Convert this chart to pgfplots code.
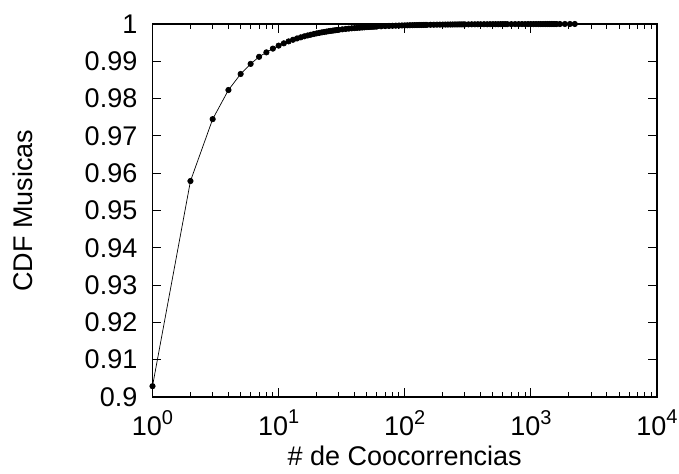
\documentclass[border=0pt]{standalone}
\usepackage{fontspec}
\setmainfont{Liberation Sans}
\usepackage{pgfplots}
\pgfplotsset{compat=1.18}
\newcommand{\sups}[1]{\raisebox{0.42em}{\fontsize{20bp}{21bp}\selectfont #1}}
\begin{document}
\fontsize{27bp}{32bp}\selectfont
\begin{tikzpicture}
\begin{axis}[
  at={(0,0)}, anchor=south west,
  scale only axis, width=504.5bp, height=373bp,
  xmode=log, xmin=1, xmax=10000, ymin=0.9, ymax=1,
  xtick={1,10,100,1000,10000},
  xticklabels={10\sups{0},10\sups{1},10\sups{2},10\sups{3},10\sups{4}},
  ytick={0.9,0.91,0.92,0.93,0.94,0.95,0.96,0.97,0.98,0.99,1},
  yticklabels={0.9,0.91,0.92,0.93,0.94,0.95,0.96,0.97,0.98,0.99,1},
  tick align=inside,
  major tick length=9bp, minor tick length=5bp,
  every tick/.style={black, line width=1bp},
  axis line style={line width=1.5bp},
  tick label style={font=\fontsize{27bp}{32bp}\selectfont},
  yticklabel style={xshift=-6bp},
  xticklabel style={yshift=-4bp},
  label style={font=\fontsize{27bp}{32bp}\selectfont},
  xlabel={\# de Coocorrencias},
  ylabel={CDF Musicas},
  xlabel style={at={(axis description cs:0.5,0)}, anchor=base, yshift=-68bp},
  ylabel style={at={(axis description cs:-0.2369,0.5)}, anchor=base},
  clip=false,
]
\addplot[black, line width=0.7bp, mark=*, mark size=2.7bp, mark options={solid, fill=black}] coordinates {
(1,0.9029) (2,0.9579) (3,0.9745) (4,0.9823) (5,0.9866) (6,0.9893) (7,0.9912) (8,0.9924) (9,0.9934) (10,0.9942)
(11,0.99482) (12,0.99534) (13,0.99577) (14,0.99613) (15,0.99643) (16,0.99670) (17,0.99693) (18,0.99713) (19,0.99731) (20,0.99748)
(21,0.99762) (22,0.99775) (23,0.99786) (24,0.99797) (25,0.99807) (26,0.99816) (27,0.99824) (28,0.99831) (29,0.99838) (30,0.99845)
(32,0.99857) (34,0.99867) (36,0.99876) (38,0.99884) (40,0.99890) (42,0.99896) (44,0.99901) (46,0.99906) (48,0.99911) (50,0.99916)
(52,0.99920) (54,0.99923) (56,0.99926) (58,0.99929) (60,0.99932)
(65,0.99938) (70,0.99944) (75,0.99948) (80,0.99952) (85,0.99955) (90,0.99958) (95,0.99961) (100,0.99963)
(105,0.99965) (110,0.99967) (115,0.99968) (120,0.99970) (125,0.99971) (130,0.99973) (135,0.99974) (140,0.99975) (145,0.99976) (150,0.99977)
(160,0.99979) (170,0.99980) (180,0.99982) (190,0.99983) (200,0.99984) (210,0.99985) (220,0.99986) (230,0.99986) (240,0.99987) (250,0.99988)
(260,0.99988) (270,0.99989) (280,0.99989) (290,0.99990) (300,0.99990) (320,0.99991) (340,0.99992) (360,0.99992) (380,0.99993) (400,0.99993)
(425,0.99994) (450,0.99994) (475,0.99995) (500,0.99995) (525,0.99995) (550,0.99995) (575,0.99996) (600,0.99996) (625,0.99996) (650,0.99996)
(700,0.99996) (750,0.99997) (800,0.99997) (850,0.99997) (900,0.99997) (950,0.99998) (1000,0.99998)
(1050,0.99998) (1100,0.99998) (1150,0.99998) (1200,0.99998) (1250,0.99998) (1300,0.99999) (1350,0.99999) (1400,0.99999) (1450,0.99999) (1500,0.99999)
(1550,0.99999) (1600,0.99999) (1700,0.99999) (1860,1.0) (2040,1.0) (2230,1.0)
};
\end{axis}
\pgfresetboundingbox
\path (-152.5bp,-77bp) rectangle (526.5bp,397bp);
\end{tikzpicture}
\end{document}
